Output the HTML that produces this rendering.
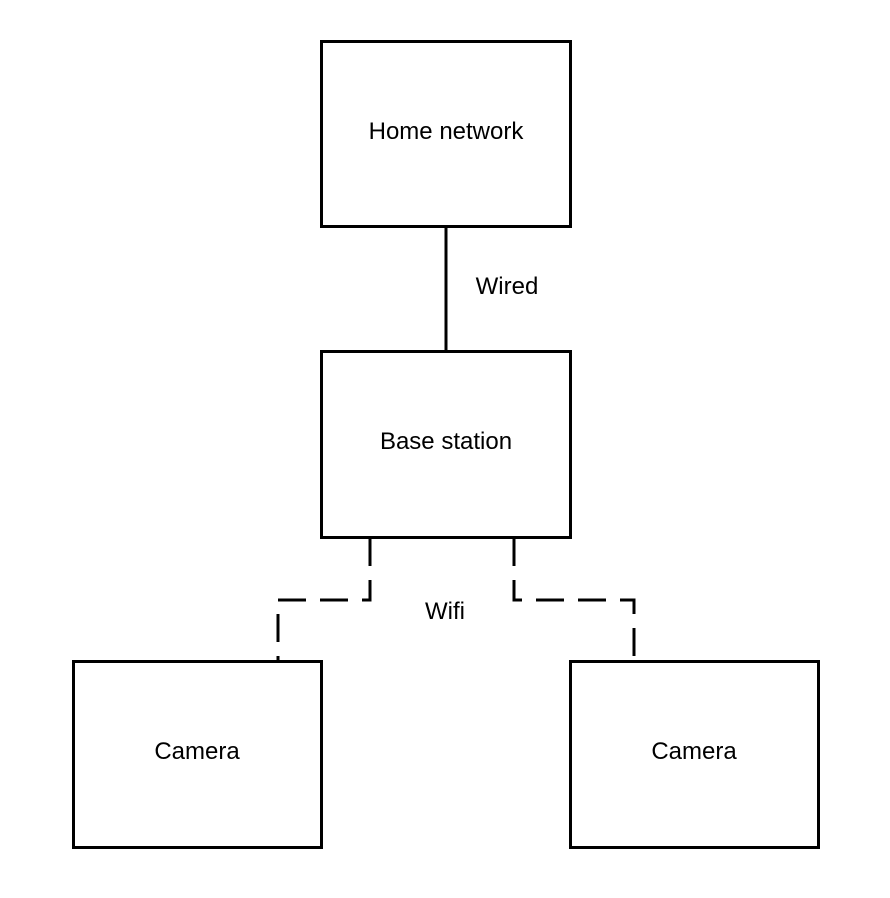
<!DOCTYPE html>
<html><head><style>body{margin:0;background:#fff}svg{display:block}</style></head>
<body>
<svg width="890" height="898" xmlns="http://www.w3.org/2000/svg" font-family="Liberation Sans, sans-serif" font-size="24" text-anchor="middle">
<rect width="890" height="898" fill="#fff"/>
<g fill="none" stroke="#000" stroke-width="3">
<rect x="321.5" y="41.5" width="249" height="185"/>
<rect x="321.5" y="351.5" width="249" height="186"/>
<rect x="73.5" y="661.5" width="248" height="186"/>
<rect x="570.5" y="661.5" width="248" height="186"/>
<line x1="446" y1="227" x2="446" y2="351"/>
<path d="M370 538 V600 H278 V661" stroke-dasharray="28 14"/>
<path d="M514 538 V600 H634 V661" stroke-dasharray="28 14"/>
</g>
<text x="446" y="139">Home network</text>
<text x="446" y="449">Base station</text>
<text x="197" y="759">Camera</text>
<text x="694" y="759">Camera</text>
<text x="507" y="294">Wired</text>
<text x="445" y="619">Wifi</text>
</svg>
</body></html>
